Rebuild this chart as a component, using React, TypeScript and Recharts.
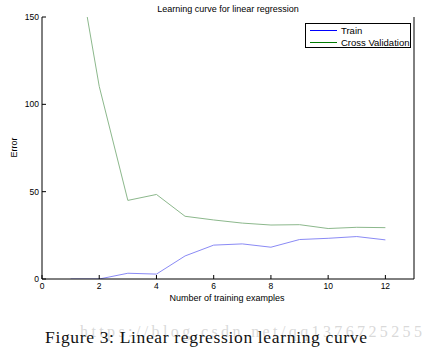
import React from "react";
import { LineChart, Line, XAxis, YAxis, Legend } from "recharts";

const trainingExamples = [1, 2, 3, 4, 5, 6, 7, 8, 9, 10, 11, 12];
const trainError = [0, 0, 3.3, 2.8, 13.2, 19.4, 20.1, 18.2, 22.6, 23.3, 24.3, 22.4];
const cvError = [205.1, 110.3, 45.0, 48.4, 35.9, 33.8, 32.0, 30.9, 31.1, 28.9, 29.6, 29.4];
const xTicks = [0, 2, 4, 6, 8, 10, 12];
const yTicks = [0, 50, 100, 150];
const seriesNames = ["Train", "Cross Validation"];
const legendColors = ["#0000ff", "#007a00"];

const data = trainingExamples.map((m, i) => ({
  m,
  train: trainError[i],
  cv: cvError[i],
}));

const sans = '"Liberation Sans", Arial, sans-serif';
const serif = '"Liberation Serif", "Times New Roman", serif';
const tickStyle = { fill: "#000", fontSize: 8.5, fontFamily: sans };

const renderLegend = () => (
  <div
    style={{
      boxSizing: "border-box",
      width: 106,
      height: 25,
      border: "1px solid #000",
      background: "#fff",
      fontFamily: sans,
      fontSize: 9.5,
      color: "#000",
      paddingTop: 1,
    }}
  >
    {seriesNames.map((name, i) => (
      <div key={name} style={{ display: "flex", alignItems: "center", height: 11.5 }}>
        <div style={{ width: 27, height: 1, background: legendColors[i], marginLeft: 4, marginRight: 4 }} />
        <span style={{ lineHeight: "11px" }}>{name}</span>
      </div>
    ))}
  </div>
);

export default function App() {
  return (
    <div
      style={{
        position: "absolute",
        left: 0,
        top: 0,
        width: 433,
        height: 353,
        background: "#fff",
        overflow: "hidden",
      }}
    >
      <LineChart width={433} height={353} data={data} margin={{ top: 17, right: 0, bottom: 44, left: 0 }}>
        <XAxis
          dataKey="m"
          type="number"
          domain={[0, 13]}
          ticks={xTicks}
          interval={0}
          height={30}
          tickSize={-4}
          tickMargin={8}
          tick={tickStyle}
          axisLine={{ stroke: "#000" }}
          tickLine={{ stroke: "#000" }}
        />
        <XAxis
          xAxisId="top"
          orientation="top"
          dataKey="m"
          type="number"
          domain={[0, 13]}
          ticks={xTicks}
          interval={0}
          height={0}
          tickSize={-4}
          tick={false}
          axisLine={{ stroke: "#000" }}
          tickLine={{ stroke: "#000" }}
        />
        <YAxis
          type="number"
          domain={[0, 150]}
          allowDataOverflow
          ticks={yTicks}
          interval={0}
          width={42}
          tickSize={-4}
          tickMargin={7}
          tick={tickStyle}
          axisLine={{ stroke: "#000" }}
          tickLine={{ stroke: "#000" }}
        />
        <YAxis
          yAxisId="right"
          orientation="right"
          type="number"
          domain={[0, 150]}
          allowDataOverflow
          ticks={yTicks}
          interval={0}
          width={19}
          tickSize={-4}
          tick={false}
          axisLine={{ stroke: "#000" }}
          tickLine={{ stroke: "#000" }}
        />
        <Line
          dataKey="train"
          name={seriesNames[0]}
          stroke="#8a8af5"
          strokeWidth={1}
          dot={false}
          isAnimationActive={false}
        />
        <Line
          dataKey="cv"
          name={seriesNames[1]}
          stroke="#8cb88c"
          strokeWidth={1}
          dot={false}
          isAnimationActive={false}
        />
        <Legend
          layout="horizontal"
          verticalAlign="middle"
          align="center"
          wrapperStyle={{ left: 305, top: 23, width: 106, height: 25 }}
          content={renderLegend}
        />
      </LineChart>
      <svg
        width={433}
        height={353}
        style={{ position: "absolute", left: 0, top: 0, pointerEvents: "none" }}
      >
        <text x={228} y={12} textAnchor="middle" fontFamily={sans} fontSize={9} fill="#000">
          Learning curve for linear regression
        </text>
        <text x={227} y={300.5} textAnchor="middle" fontFamily={sans} fontSize={9} fill="#000">
          Number of training examples
        </text>
        <text
          x={16.5}
          y={147.5}
          textAnchor="middle"
          fontFamily={sans}
          fontSize={9}
          fill="#000"
          transform="rotate(-90, 16.5, 147.5)"
        >
          Error
        </text>
        <text
          x={80}
          y={337}
          fontFamily={serif}
          fontSize={16}
          fill="#d2d2d2"
          fillOpacity={0.85}
          textLength={342}
          lengthAdjust="spacing"
        >
          https://blog.csdn.net/qq1376725255
        </text>
        <text
          x={45}
          y={343.3}
          fontFamily={serif}
          fontSize={17.5}
          fill="#111"
          textLength={322}
          lengthAdjust="spacing"
        >
          Figure 3: Linear regression learning curve
        </text>
      </svg>
    </div>
  );
}
